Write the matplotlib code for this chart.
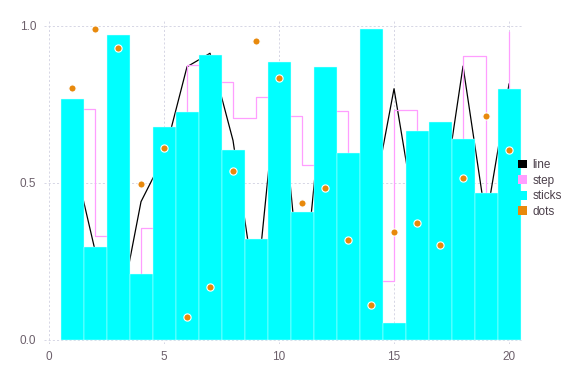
import numpy as np
import matplotlib
matplotlib.use("Agg")
import matplotlib.pyplot as plt
from matplotlib.patches import Patch

plt.rcParams['font.family'] = ['Liberation Sans', 'DejaVu Sans']

# dane
x = np.arange(1, 21)
line_y = [0.60, 0.285, 0.06, 0.44, 0.585, 0.87, 0.913, 0.635, 0.14, 0.87,
          0.10, 0.85, 0.20, 0.41, 0.80, 0.36, 0.38, 0.872, 0.38, 0.815]
step_y = [0.735, 0.33, 0.10, 0.355, 0.50, 0.875, 0.82, 0.706, 0.773, 0.713,
          0.557, 0.73, 0.40, 0.188, 0.732, 0.50, 0.45, 0.904, 0.30, 0.98]
sticks_y = [0.767, 0.297, 0.972, 0.208, 0.678, 0.727, 0.906, 0.606, 0.32, 0.884,
            0.406, 0.868, 0.595, 0.99, 0.052, 0.666, 0.694, 0.64, 0.468, 0.80]
dots_y = [0.802, 0.99, 0.93, 0.496, 0.611, 0.072, 0.168, 0.537, 0.952, 0.834,
          0.437, 0.482, 0.318, 0.111, 0.342, 0.373, 0.302, 0.517, 0.713, 0.606]

labels = ["line", "step", "sticks", "dots"]
colors = ["black", "#FF9EFF", "#00FFFF", "#E8890C"]

fig = plt.figure(figsize=(5.76, 3.84), dpi=100)
ax = fig.add_axes([0.0771, 0.1031, 0.8306, 0.8456])

ax.plot(x, line_y, color=colors[0], linewidth=0.9, zorder=2)
ax.step(x, step_y, where='post', color=colors[1], linewidth=0.9, zorder=2)
ax.bar(x, sticks_y, width=1.0, color=colors[2], edgecolor='#D6FFFF',
       linewidth=0.3, zorder=3)
ax.plot(x, dots_y, linestyle='none', marker='o', markersize=5.2,
        markerfacecolor=colors[3], markeredgecolor='white',
        markeredgewidth=0.8, zorder=4)

ax.set_xlim(-0.2, 20.6)
ax.set_ylim(-0.015, 1.02)
ax.set_xticks([0, 5, 10, 15, 20])
ax.set_yticks([0.0, 0.5, 1.0])
ax.set_yticklabels(["0.0", "0.5", "1.0"])

ax.grid(True, color='#D0D0E0', linestyle=(0, (2.5, 2.5)), linewidth=0.6)
ax.set_axisbelow(True)
for s in ax.spines.values():
    s.set_visible(False)
ax.tick_params(length=0, labelsize=8.5, labelcolor='#6C606B')
ax.tick_params(axis='y', pad=6)
ax.tick_params(axis='x', pad=5)

handles = [Patch(facecolor=c, edgecolor='none') for c in colors]
fig.legend(handles, labels, loc='center left', bbox_to_anchor=(0.900, 0.509),
           frameon=False, fontsize=8.5, handlelength=0.75, handleheight=0.75,
           handletextpad=0.45, labelspacing=0.3, borderpad=0, borderaxespad=0,
           labelcolor='#4C404B')

fig.savefig("out.png", dpi=100)
